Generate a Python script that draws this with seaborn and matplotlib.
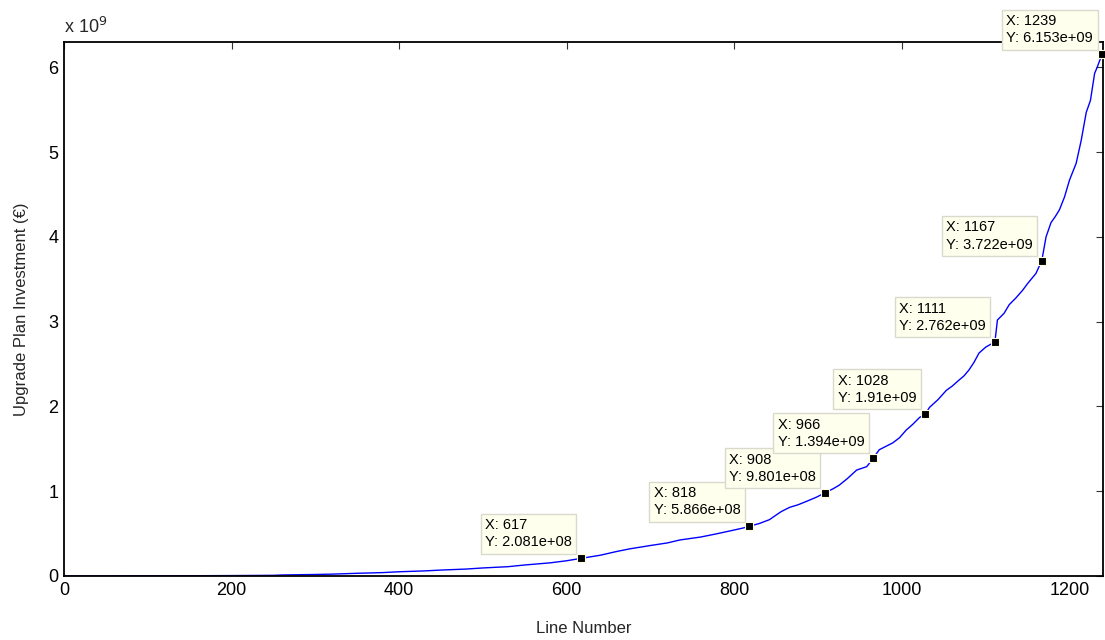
import matplotlib
matplotlib.use("Agg")
import matplotlib.pyplot as plt
import seaborn as sns
import pandas as pd

# Cumulative upgrade-plan investment against sorted line number (values in units of 1e9 €)
line_number = [0, 50, 100, 150, 200, 250, 260, 300, 320, 350, 380, 400, 430, 450, 480,
               500, 530, 550, 580, 600, 617, 640, 660, 675, 700, 720, 735, 760, 780,
               794, 810, 818, 830, 842, 850, 856, 866, 876, 886, 898, 908, 918, 925,
               935, 946, 958, 962, 966, 973, 981, 989, 997, 1005, 1013, 1021, 1028,
               1033, 1043, 1053, 1060, 1068, 1074, 1080, 1086, 1092, 1100, 1111, 1114,
               1122, 1128, 1136, 1144, 1150, 1160, 1167, 1172, 1178, 1183, 1188, 1194,
               1200, 1208, 1214, 1220, 1225, 1230, 1233, 1236, 1239]
investment_e9 = [0.0, 0.001, 0.002, 0.003, 0.005, 0.008, 0.012, 0.018, 0.022, 0.032,
                 0.040, 0.050, 0.060, 0.070, 0.082, 0.095, 0.110, 0.130, 0.155, 0.180,
                 0.2081, 0.245, 0.290, 0.320, 0.360, 0.390, 0.425, 0.460, 0.500, 0.530,
                 0.565, 0.5866, 0.620, 0.665, 0.720, 0.760, 0.810, 0.840, 0.880, 0.930,
                 0.9801, 1.030, 1.070, 1.150, 1.250, 1.290, 1.340, 1.394, 1.490, 1.530,
                 1.570, 1.630, 1.720, 1.790, 1.870, 1.910, 1.990, 2.080, 2.190, 2.240,
                 2.310, 2.360, 2.430, 2.520, 2.630, 2.700, 2.762, 3.020, 3.100, 3.200,
                 3.280, 3.370, 3.450, 3.570, 3.722, 4.000, 4.170, 4.240, 4.320, 4.470,
                 4.670, 4.870, 5.140, 5.470, 5.610, 5.930, 6.000, 6.080, 6.153]

# Data tips
tip_x = [617, 818, 908, 966, 1028, 1111, 1167, 1239]
tip_y_e9 = [0.2081, 0.5866, 0.9801, 1.394, 1.91, 2.762, 3.722, 6.153]
tip_labels = ["X: 617\nY: 2.081e+08", "X: 818\nY: 5.866e+08", "X: 908\nY: 9.801e+08",
              "X: 966\nY: 1.394e+09", "X: 1028\nY: 1.91e+09", "X: 1111\nY: 2.762e+09",
              "X: 1167\nY: 3.722e+09", "X: 1239\nY: 6.153e+09"]

x_ticks = [0, 200, 400, 600, 800, 1000, 1200]
y_ticks = [0, 1, 2, 3, 4, 5, 6]

sns.set_style("white")
plt.rcParams["font.family"] = ["Liberation Sans", "DejaVu Sans"]

curve = pd.DataFrame({"line": line_number, "inv": [v * 1e9 for v in investment_e9]})
tips = pd.DataFrame({"line": tip_x, "inv": [v * 1e9 for v in tip_y_e9]})

fig = plt.figure(figsize=(11.05, 6.4), dpi=100)
ax = fig.add_axes([64 / 1105, 64 / 640, (1103 - 64) / 1105, (576 - 42) / 640])

sns.lineplot(data=curve, x="line", y="inv", ax=ax, color="#0000ff", linewidth=1.0,
             estimator=None, sort=False)
sns.scatterplot(data=tips, x="line", y="inv", ax=ax, marker="s", s=36, color="black",
                edgecolor="#fffde0", linewidth=0.8, zorder=5, clip_on=False)

for xv, yv, lab in zip(tip_x, tip_y_e9, tip_labels):
    ax.annotate(lab, xy=(xv, yv * 1e9), xytext=(-9, 9), textcoords="offset pixels",
                ha="right", va="bottom", multialignment="left", fontsize=10.5,
                linespacing=1.3, color="black", zorder=6, annotation_clip=False,
                bbox=dict(boxstyle="square,pad=0.3", facecolor="#ffffee",
                          edgecolor="#d9d9cc", linewidth=1.0))

ax.set_xlim(0, 1240)
ax.set_ylim(0, 6.3e9)
ax.set_xticks(x_ticks)
ax.set_xticklabels([str(t) for t in x_ticks])
ax.set_yticks([t * 1e9 for t in y_ticks])
ax.set_yticklabels([str(t) for t in y_ticks])

ax.tick_params(direction="in", length=5, width=0.8, color="#333333", labelsize=13,
               top=True, right=True, labelcolor="black", pad=4)
for sp in ax.spines.values():
    sp.set_color("black")
    sp.set_linewidth(1.3)
    sp.set_visible(True)

ax.set_xlabel("Line Number", fontsize=12, labelpad=16)
ax.set_ylabel("Upgrade Plan Investment (€)", fontsize=12, labelpad=14)
ax.text(0, 1.01, r"x 10$^{9}$", transform=ax.transAxes, ha="left", va="bottom",
        fontsize=13)

fig.savefig("out.png", dpi=100)
